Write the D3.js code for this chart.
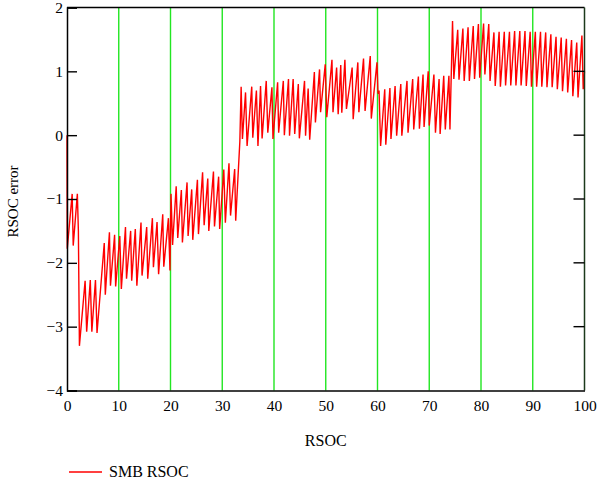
<!DOCTYPE html>
<html>
<head>
<meta charset="utf-8">
<script src="https://cdn.jsdelivr.net/npm/d3@7"></script>
<style>
  body { margin: 0; background: #fff; }
  svg text { font-family: "Liberation Serif", "Times New Roman", "DejaVu Serif", serif; fill: #000; }
</style>
</head>
<body>
<svg id="chart" width="599" height="482"></svg>
<script>
// tick values
const xTicks = [0, 10, 20, 30, 40, 50, 60, 70, 80, 90, 100];
const yTicks = [-4, -3, -2, -1, 0, 1, 2];
const gridX = [10, 20, 30, 40, 50, 60, 70, 80, 90];

// SMB RSOC error
const rsoc = [
  0, 0.05, 1.0, 1.2, 2.0, 2.2, 2.4,
  3.5, 3.8, 4.5, 4.8, 5.5, 5.8, 7.2, 7.4,
  8.2, 8.4, 9.2, 9.4, 10.2, 10.5, 11.3, 11.5, 12.3, 12.5, 13.2, 13.5,
  14.3, 14.5, 15.4, 15.6, 16.5, 16.7, 17.4, 17.7, 18.5, 18.7, 19.6, 19.9,
  20.1, 20.4, 21.1, 21.4, 22.1, 22.3, 23.2, 23.4, 24.1, 24.3, 25.2, 25.4,
  26.2, 26.5, 27.2, 27.4, 28.3, 28.5, 29.3, 29.5, 30.3, 30.6, 31.3, 31.6,
  32.4, 32.6, 33.4, 33.65,
  33.9, 34.5, 34.8, 35.7, 35.9, 36.6, 36.9, 37.4, 37.7, 38.5, 38.8, 39.6, 39.8,
  40.7, 40.9, 41.8, 42.0, 42.8, 43.0, 43.7, 44.0, 44.7, 44.9, 45.9, 46.1, 46.6, 46.9,
  47.8, 48.0, 48.8, 49.0, 49.9, 50.2, 51.2, 51.4, 52.1, 52.4, 52.9, 53.1,
  53.7, 54.0, 55.1, 55.3, 56.2, 56.4, 57.3, 57.6, 58.6, 58.8, 59.9, 60.1, 60.3, 60.6,
  61.4, 61.6, 62.4, 62.6, 63.4, 63.7, 64.5, 64.7, 65.7, 65.9, 66.8, 67.0,
  67.9, 68.1, 68.8, 69.0, 69.8, 70.0, 70.9, 71.2, 71.9, 72.1, 72.8, 73.1, 73.8, 74.0,
  74.5, 74.75, 75.5, 75.75, 76.5, 76.75, 77.5, 77.75, 78.5, 78.75, 79.5, 79.75,
  80.5, 80.75, 81.5, 81.75, 82.5, 82.75, 83.5, 83.75, 84.5, 84.75, 85.5, 85.75,
  86.5, 86.75, 87.5, 87.75, 88.5, 88.75, 89.5, 89.75, 90.5, 90.75, 91.5, 91.75,
  92.5, 92.75, 93.5, 93.75, 94.5, 94.75, 95.5, 95.75, 96.5, 96.75, 97.5, 97.75,
  98.5, 98.75, 99.5, 99.75, 100
];
const rsocError = [
  0, -1.78, -0.92, -1.73, -0.92, -1.5, -3.3,
  -2.28, -3.08, -2.27, -3.08, -2.27, -3.1, -1.69, -2.5,
  -1.52, -2.36, -1.56, -2.37, -1.58, -2.41, -1.44, -2.25, -1.5, -2.28, -1.47, -2.36,
  -1.37, -2.2, -1.44, -2.25, -1.3, -2.07, -1.36, -2.18, -1.24, -2.06, -1.3, -2.12,
  -0.92, -1.72, -0.8, -1.61, -0.86, -1.68, -0.74, -1.58, -0.85, -1.64, -0.7, -1.55,
  -0.58, -1.41, -0.68, -1.5, -0.57, -1.43, -0.65, -1.47, -0.54, -1.37, -0.44, -1.26,
  -0.53, -1.34, -0.1, 0.76,
  -0.06, 0.67, -0.17, 0.76, -0.04, 0.7, -0.17, 0.77, -0.05, 0.85, 0.04, 0.75, -0.06,
  0.83, 0.04, 0.85, 0.0, 0.88, -0.01, 0.88, 0.02, 0.8, -0.05, 0.85, -0.01, 0.73, -0.07,
  0.99, 0.2, 1.03, 0.36, 1.11, 0.28, 1.18, 0.36, 1.06, 0.33, 1.1, 0.35,
  1.18, 0.41, 1.06, 0.25, 1.14, 0.36, 1.2, 0.38, 1.24, 0.26, 1.14, 0.65, 0.7, -0.17,
  0.72, -0.15, 0.74, -0.06, 0.77, -0.01, 0.8, -0.01, 0.85, 0.04, 0.88, 0.09,
  0.92, 0.1, 0.95, 0.13, 1.0, 0.15, 0.95, 0.04, 0.88, 0.02, 0.93, 0.09, 0.93, 0.09,
  1.79, 0.88, 1.65, 0.87, 1.67, 0.85, 1.69, 0.85, 1.71, 0.88, 1.74, 0.9,
  1.75, 0.95, 1.74, 0.85, 1.61, 0.77, 1.62, 0.76, 1.62, 0.78, 1.62, 0.78,
  1.63, 0.78, 1.63, 0.78, 1.63, 0.77, 1.62, 0.76, 1.62, 0.76, 1.62, 0.76,
  1.61, 0.75, 1.58, 0.75, 1.54, 0.72, 1.53, 0.69, 1.51, 0.67, 1.49, 0.61,
  1.45, 0.59, 1.56, 0.72, 1.0
];

const margin = { top: 7.5, right: 14.5, bottom: 91.5, left: 67 };
const width = 599 - margin.left - margin.right,
  height = 482 - margin.top - margin.bottom;

const svg = d3.select("#chart")
  .append("g")
  .attr("transform", `translate(${margin.left},${margin.top})`);

const x = d3.scaleLinear().domain([0, 100]).range([0, width]);
const y = d3.scaleLinear().domain([-4, 2]).range([height, 0]);

// green grid lines
svg.append("g")
  .selectAll("line")
  .data(gridX)
  .join("line")
  .attr("x1", (d) => x(d))
  .attr("x2", (d) => x(d))
  .attr("y1", 0)
  .attr("y2", height)
  .attr("stroke", "#22e622")
  .attr("stroke-width", 1.4);

// the series
const line = d3.line()
  .x((d, i) => x(rsoc[i]))
  .y((d) => y(d));

svg.append("path")
  .datum(rsocError)
  .attr("fill", "none")
  .attr("stroke", "#ff0000")
  .attr("stroke-width", 1.4)
  .attr("stroke-linejoin", "miter")
  .attr("d", line);

// frame
svg.append("line").attr("x1", 0).attr("x2", width).attr("y1", 0).attr("y2", 0)
  .attr("stroke", "#000").attr("stroke-width", 1.5);
svg.append("line").attr("x1", width).attr("x2", width).attr("y1", 0).attr("y2", height)
  .attr("stroke", "#1c3a1c").attr("stroke-width", 1.5);

// y axis, ticks pointing inward
const yAxis = svg.append("g")
  .attr("font-family", null)
  .call(d3.axisLeft(y).tickValues(yTicks).tickSize(-10).tickPadding(4)
    .tickFormat((d) => d3.format("d")(d).replace("-", "\u2212")));
yAxis.attr("font-family", null).attr("font-size", null);
yAxis.select(".domain").attr("stroke", "#000").attr("stroke-width", 1.5);
yAxis.selectAll(".tick line").attr("stroke", "#000").attr("stroke-width", 1.4);
yAxis.selectAll("text")
  .style("font-size", "15.5px")
  .attr("fill", "#000");

// matching inward ticks on the right edge
svg.append("g")
  .selectAll("line")
  .data(yTicks.filter((d) => d > -4 && d < 2))
  .join("line")
  .attr("x1", width - 11)
  .attr("x2", width)
  .attr("y1", (d) => y(d))
  .attr("y2", (d) => y(d))
  .attr("stroke", "#000")
  .attr("stroke-width", 1.4);

// x axis, no tick marks
const xAxis = svg.append("g")
  .attr("transform", `translate(0,${height})`)
  .call(d3.axisBottom(x).tickValues(xTicks).tickSize(0).tickPadding(9));
xAxis.attr("font-family", null).attr("font-size", null);
xAxis.select(".domain").attr("stroke", "#000").attr("stroke-width", 1.5);
xAxis.selectAll("text")
  .style("font-size", "15.5px")
  .attr("fill", "#000");

// axis titles
svg.append("text")
  .attr("x", width / 2)
  .attr("y", height + 55)
  .style("text-anchor", "middle")
  .style("font-size", "16px")
  .text("RSOC");

svg.append("text")
  .attr("transform", "rotate(-90)")
  .attr("x", -194)
  .attr("y", -49)
  .style("text-anchor", "middle")
  .style("font-size", "15px")
  .text("RSOC error");

// legend
const legend = d3.select("#chart").append("g")
  .attr("transform", "translate(69,472)");
legend.append("line")
  .attr("x1", 0).attr("x2", 33)
  .attr("stroke", "#ff0000").attr("stroke-width", 1.3);
legend.append("text")
  .attr("x", 40)
  .attr("y", 5)
  .style("font-size", "16px")
  .text("SMB RSOC");
</script>
</body>
</html>
